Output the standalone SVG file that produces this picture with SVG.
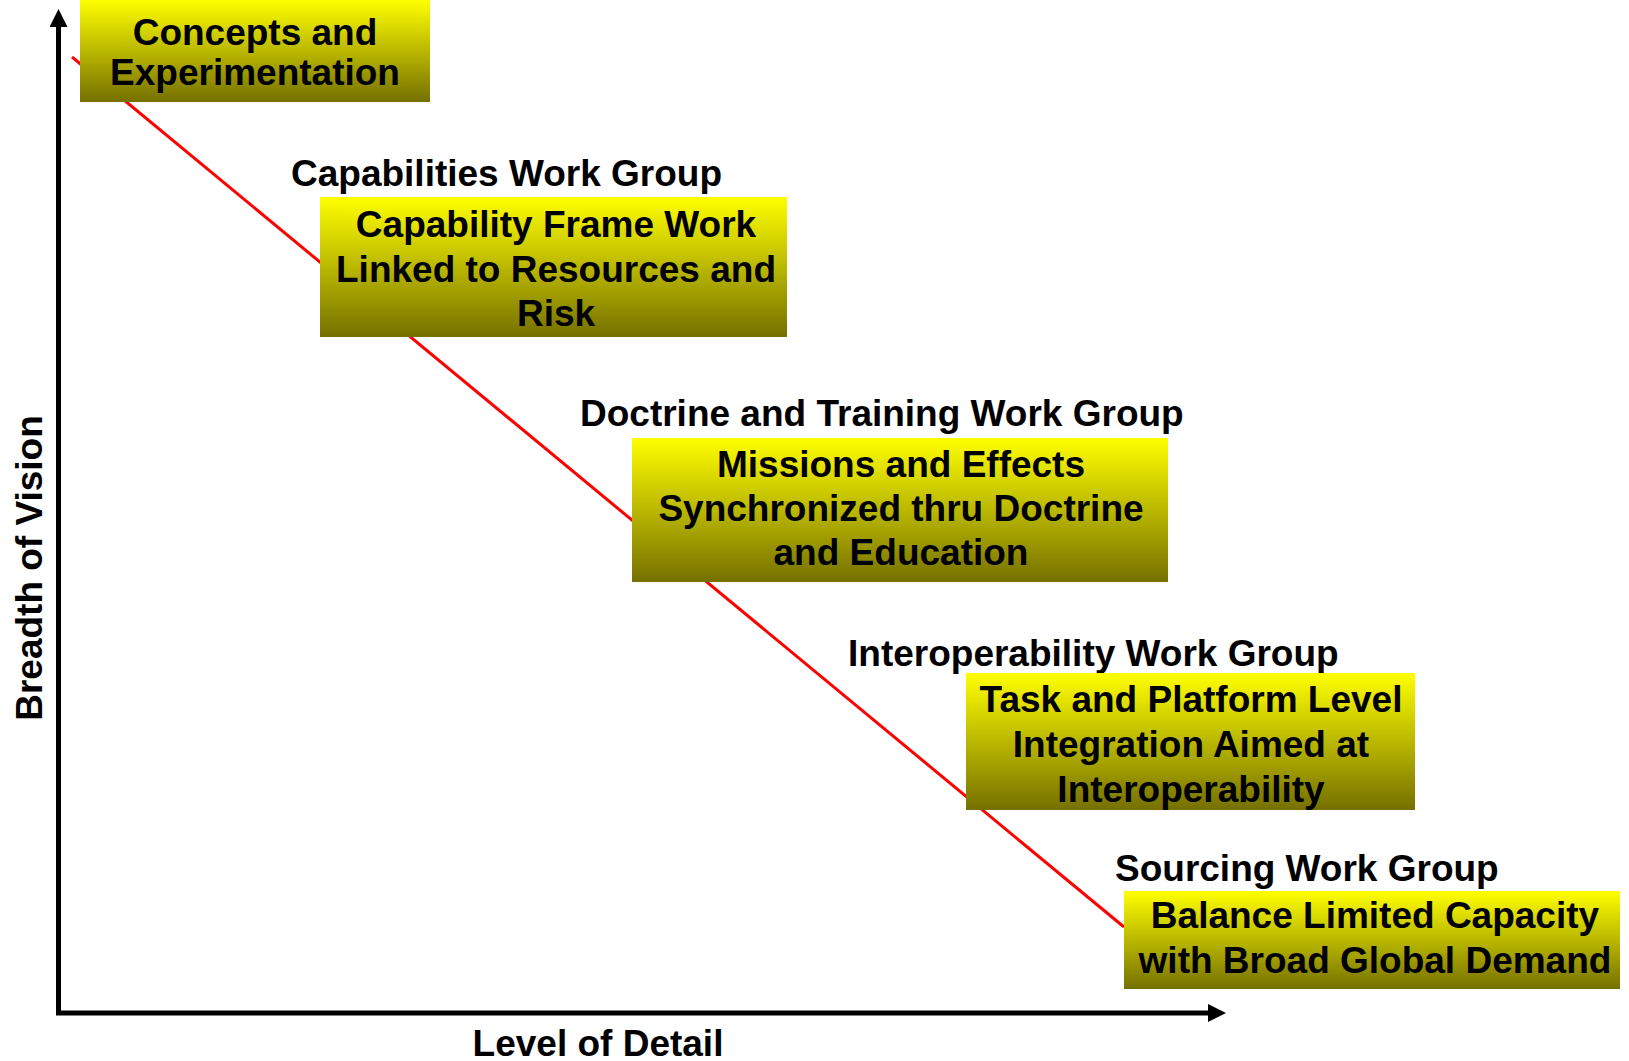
<svg xmlns="http://www.w3.org/2000/svg" width="1629" height="1061" viewBox="0 0 1629 1061">
<defs>
<linearGradient id="yg" x1="0" y1="0" x2="0" y2="1">
<stop offset="0" stop-color="#FFFF00"/>
<stop offset="1" stop-color="#757000"/>
</linearGradient>
<marker id="ah" viewBox="0 0 10 10" refX="0" refY="5" markerWidth="3.6" markerHeight="3.6" markerUnits="strokeWidth" orient="auto">
<path d="M0,0 L10,5 L0,10 Z" fill="#000"/>
</marker>
</defs>
<style>
.box{fill:url(#yg);}
.t{font-family:"Liberation Sans",Arial,sans-serif;font-weight:bold;font-size:37px;fill:#000;}
.c{text-anchor:middle;}
.ax{stroke:#000;stroke-width:5;fill:none;}
.red{stroke:#FF0000;stroke-width:3;fill:none;}
</style>
<g id="connectors">
<line class="red" x1="72" y1="57" x2="1124" y2="927"/>
<path class="ax" d="M58.5,1013 L58.5,27" marker-end="url(#ah)"/>
<path class="ax" d="M56,1013 L1208,1013" marker-end="url(#ah)"/>
</g>
<g id="node-concepts">
<rect class="box" x="80" y="0" width="350" height="102"/>
<text class="t c" x="255" y="44.5">Concepts and</text>
<text class="t c" x="255" y="84.5">Experimentation</text>
</g>
<g id="node-capabilities">
<text class="t" x="291" y="185.5">Capabilities Work Group</text>
<rect class="box" x="320" y="197" width="467" height="140"/>
<text class="t c" x="556" y="236.5">Capability Frame Work</text>
<text class="t c" x="556" y="281.5">Linked to Resources and</text>
<text class="t c" x="556" y="325.5">Risk</text>
</g>
<g id="node-doctrine">
<text class="t" x="580" y="425.5">Doctrine and Training Work Group</text>
<rect class="box" x="632" y="438" width="536" height="144"/>
<text class="t c" x="901" y="476.5">Missions and Effects</text>
<text class="t c" x="901" y="520.5">Synchronized thru Doctrine</text>
<text class="t c" x="901" y="564.5">and Education</text>
</g>
<g id="node-interop">
<text class="t" x="848" y="665.5">Interoperability Work Group</text>
<rect class="box" x="966" y="673" width="449" height="137"/>
<text class="t c" x="1191" y="711.5">Task and Platform Level</text>
<text class="t c" x="1191" y="756.5">Integration Aimed at</text>
<text class="t c" x="1191" y="801.5">Interoperability</text>
</g>
<g id="node-sourcing">
<text class="t" x="1115" y="880.5">Sourcing Work Group</text>
<rect class="box" x="1124" y="891" width="496" height="98"/>
<text class="t c" x="1375" y="927.5">Balance Limited Capacity</text>
<text class="t c" x="1375" y="972.5">with Broad Global Demand</text>
</g>
<g id="axis-labels">
<text class="t c" transform="translate(41.5,568) rotate(-90)" x="0" y="0">Breadth of Vision</text>
<text class="t c" x="598" y="1055.5">Level of Detail</text>
</g>
</svg>
